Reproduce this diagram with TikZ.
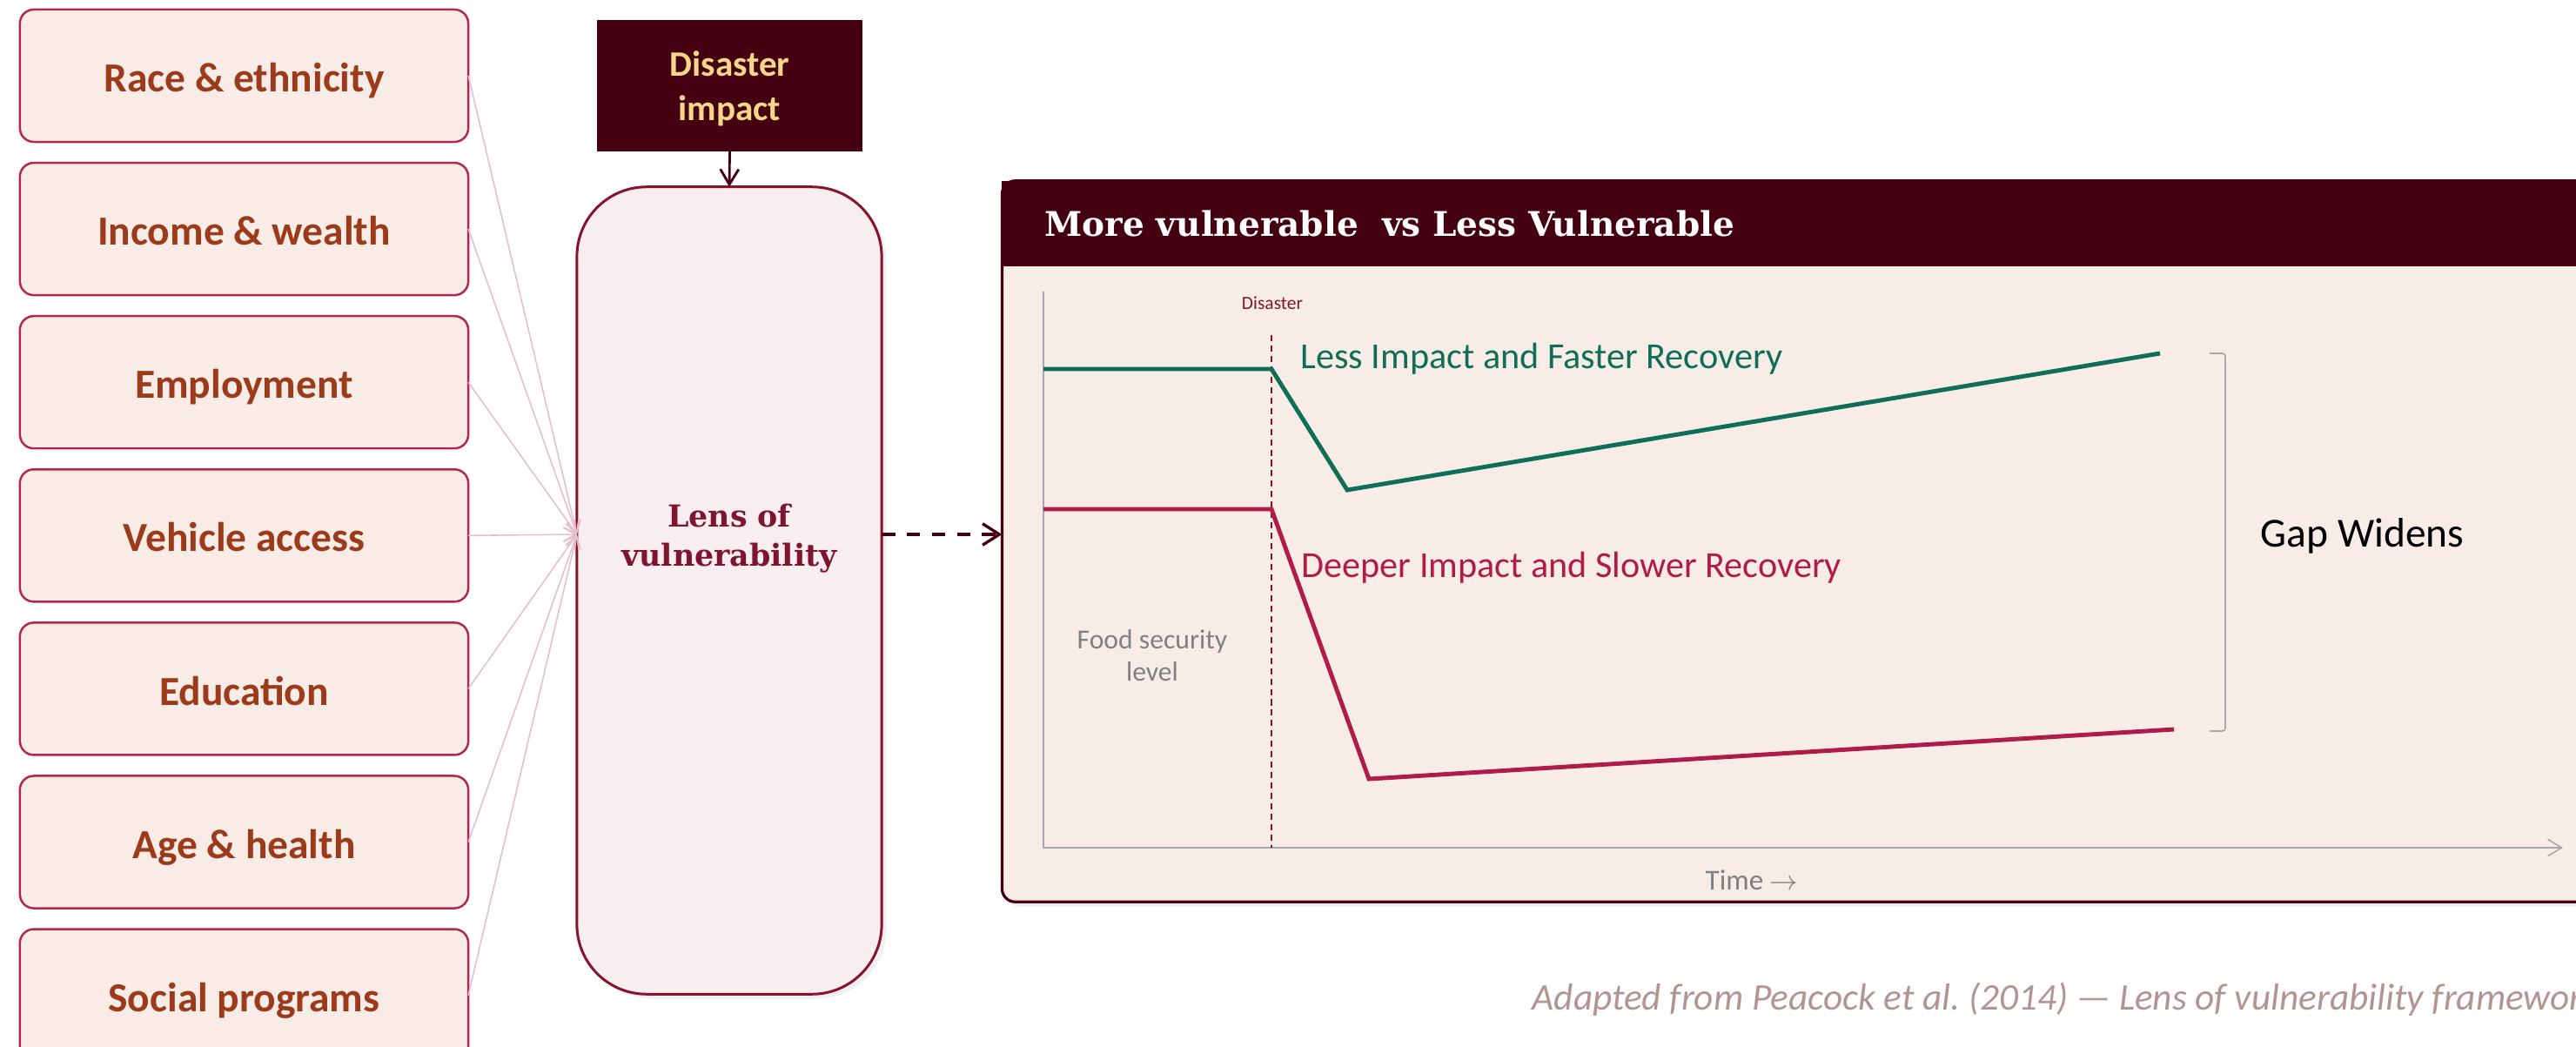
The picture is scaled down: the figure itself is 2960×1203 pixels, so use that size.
\documentclass[tikz,border=0pt]{standalone}
\usepackage{fontspec}
\setmainfont{Carlito}
\newfontfamily\headfont{DejaVu Serif}
\usetikzlibrary{positioning, arrows.meta, shadows}

\definecolor{boxfill}{HTML}{F9ECE7}
\definecolor{boxline}{HTML}{B32650}
\definecolor{boxtext}{HTML}{9C3B1B}
\definecolor{darkmaroon}{HTML}{440010}
\definecolor{lensfill}{HTML}{F9EEEF}
\definecolor{lensline}{HTML}{86142F}
\definecolor{lenstext}{HTML}{7D1430}
\definecolor{gold}{HTML}{F5D78A}
\definecolor{panelfill}{HTML}{F8ECE7}
\definecolor{lessgreen}{HTML}{0F6E56}
\definecolor{deepred}{HTML}{B01C48}
\definecolor{feedpink}{HTML}{E6BFCB}
\definecolor{axisgray}{HTML}{A8A8A8}
\definecolor{notegray}{HTML}{B39494}

\begin{document}
\begin{tikzpicture}[x=0.01cm, y=-0.01cm,
  factor/.style={draw=boxline, fill=boxfill, line width=0.7pt, rounded corners=0.16cm,
    minimum width=5.15cm, minimum height=1.52cm, outer sep=0pt, text=boxtext,
    text height=12.9pt, text depth=2.3pt,
    font=\fontsize{13.5}{16}\selectfont\bfseries},
  impactbox/.style={fill=darkmaroon, minimum width=3.05cm, minimum height=1.51cm,
    outer sep=0pt, text=gold, text height=17pt, text depth=8.6pt,
    font=\fontsize{11.7}{14.5}\selectfont\bfseries},
  lensbox/.style={draw=lensline, fill=lensfill, line width=0.85pt, rounded corners=0.8cm,
    minimum width=3.5cm, minimum height=9.27cm, outer sep=0pt,
    drop shadow={opacity=0.12, shadow xshift=1.5pt, shadow yshift=-1.5pt}},
  lenslabel/.style={text=lenstext, align=center, inner sep=0pt,
    font=\fontsize{9.9}{12.8}\selectfont\headfont\bfseries},
  panelbox/.style={draw=darkmaroon, fill=panelfill, line width=0.9pt, rounded corners=0.15cm,
    minimum width=18.58cm, minimum height=8.28cm, outer sep=0pt,
    drop shadow={opacity=0.12, shadow xshift=1pt, shadow yshift=-1.5pt}},
  headbar/.style={fill=darkmaroon, minimum width=18.58cm, minimum height=0.98cm, outer sep=0pt},
  feed/.style={draw=feedpink, line width=0.45pt, -{Straight Barb[length=4pt,width=4.5pt]}},
  hit/.style={draw=darkmaroon, line width=0.8pt, -{Straight Barb[length=5pt,width=6pt]}},
  flow/.style={draw=darkmaroon, line width=0.95pt, dash pattern=on 4.4pt off 3.8pt,
    -{Straight Barb[length=5.5pt,width=7pt]}},
  axis/.style={draw=axisgray, line width=0.45pt, -{Straight Barb[length=4.5pt,width=5.5pt]}},
  eventline/.style={draw=lensline, line width=0.4pt, dash pattern=on 2pt off 1.4pt},
  lessline/.style={draw=lessgreen, line width=1.4pt, line join=miter},
  deepline/.style={draw=deepred, line width=1.4pt, line join=miter},
  gapbrace/.style={draw=axisgray, line width=0.45pt, rounded corners=1pt},
  label/.style={inner sep=0pt, anchor=base west}
]
  \useasboundingbox (0,0) rectangle (2960,1203);

  \node[factor] (race) at (280.5,87) {Race \& ethnicity};
  \node[factor, below=0.24cm of race] (income) {Income \& wealth};
  \node[factor, below=0.24cm of income] (employ) {Employment};
  \node[factor, below=0.24cm of employ] (vehicle) {Vehicle access};
  \node[factor, below=0.24cm of vehicle] (educ) {Education};
  \node[factor, below=0.24cm of educ] (age) {Age \& health};
  \node[factor, below=0.24cm of age] (social) {Social programs};

  \node[impactbox] (impact) at (838.5,98.5)
    {\begin{tabular}{@{}c@{}}Disaster\\impact\end{tabular}};
  \node[lensbox] (lens) at (838,678.5) {};
  \coordinate (mid) at (0,614);
  \node[lenslabel, yshift=-1.2pt] (lenstxt) at (lens.center |- mid) {Lens of\\vulnerability};

  \node[panelbox] (panel) at (2081,622) {};
  \node[headbar] (head) at (2081,257) {};
  \node[label, text=white, font=\fontsize{11.1}{13}\selectfont\headfont\bfseries] (title)
    at (1200,271) {More vulnerable\ \ vs Less Vulnerable};

  \draw[feed] (race.east) -- (lens.west |- mid);
  \draw[feed] (income.east) -- (lens.west |- mid);
  \draw[feed] (employ.east) -- (lens.west |- mid);
  \draw[feed] (vehicle.east) -- (lens.west |- mid);
  \draw[feed] (educ.east) -- (lens.west |- mid);
  \draw[feed] (age.east) -- (lens.west |- mid);
  \draw[feed] (social.east) -- (lens.west |- mid);
  \draw[hit] (impact.south) -- (lens.north);
  \draw[flow] (lens.east |- mid) -- (panel.west |- mid);

  \draw[axis] (1199,335) -- (1199,974) -- (2945,974);
  \draw[eventline] (1461,385) -- (1461,974);
  \node[inner sep=0pt, text=lensline, font=\fontsize{6.1}{7}\selectfont] (eventlab) at (1462,348) {Disaster};
  \draw[lessline] (1199,424) -- (1461,424) -- (1548,563) -- (2482,406);
  \draw[deepline] (1199,585) -- (1461,585) -- (1573,895) -- (2498,838);
  \draw[gapbrace] (2539,406) -- (2557,406) -- (2557,840) -- (2539,840);

  \node[label, text=lessgreen, font=\fontsize{12}{14}\selectfont] (lesslab) at (1494,423) {Less Impact and Faster Recovery};
  \node[label, text=deepred, font=\fontsize{12}{14}\selectfont] (deeplab) at (1495,663) {Deeper Impact and Slower Recovery};
  \node[label, font=\fontsize{13.5}{16}\selectfont] (gaplab) at (2597,628) {Gap Widens};
  \node[inner sep=0pt, align=center, text=black!50, font=\fontsize{9}{10.4}\selectfont] (foodlab) at (1324,753) {Food security\\level};
  \node[inner sep=0pt, text=black!50, font=\fontsize{9.4}{11}\selectfont] (timelab) at (2013,1011) {Time $\rightarrow$};
  \node[label, text=notegray, font=\fontsize{12.3}{14}\selectfont\itshape] (note) at (1760,1160)
    {Adapted from Peacock et al.\ (2014) --- Lens of vulnerability framework};
\end{tikzpicture}
\end{document}
